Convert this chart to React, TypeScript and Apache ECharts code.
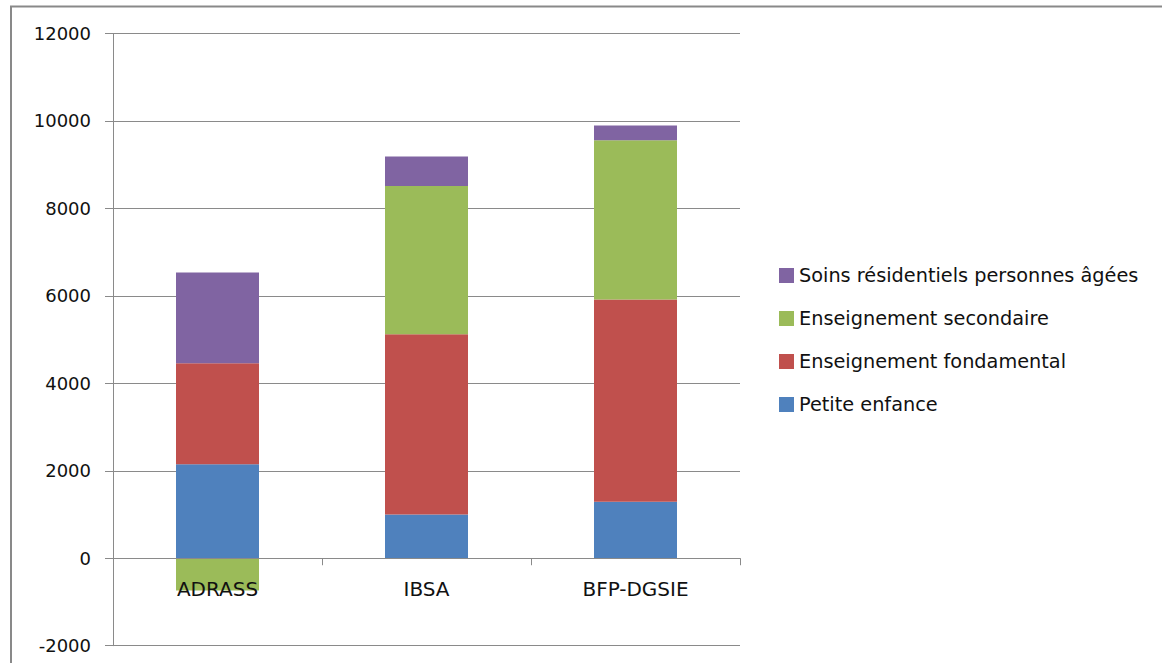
import React, { useEffect, useRef } from "react";
import * as echarts from "echarts";

const categories = ["ADRASS", "IBSA", "BFP-DGSIE"];
const seriesNames = [
  "Petite enfance",
  "Enseignement fondamental",
  "Enseignement secondaire",
  "Soins résidentiels personnes âgées",
];
const petiteEnfance = [2150, 1000, 1290];
const fondamental = [2310, 4120, 4625];
const secondaire = [-740, 3390, 3645];
const soinsAges = [2075, 680, 336];
const colors = ["#4F81BD", "#C0504D", "#9BBB59", "#8064A2"];
const yTicks = { min: -2000, max: 12000, interval: 2000 };

const FONT = "DejaVu Sans";
const GRID_TOP = 33.5;
const GRID_BOTTOM_Y = 645.7;

export default function App() {
  const ref = useRef<HTMLDivElement>(null);
  useEffect(() => {
    if (!ref.current) return;
    const chart = echarts.init(ref.current, undefined, { renderer: "svg" });
    const values = [petiteEnfance, fondamental, secondaire, soinsAges];
    const plotH = GRID_BOTTOM_Y - GRID_TOP;
    const zeroOffset = (plotH * (0 - yTicks.min)) / (yTicks.max - yTicks.min);
    chart.setOption({
      animation: false,
      backgroundColor: "#fff",
      grid: {
        left: 113,
        top: GRID_TOP,
        right: 422,
        bottom: 663 - GRID_BOTTOM_Y,
        containLabel: false,
        outerBoundsMode: "none",
      },
      legend: {
        orient: "vertical",
        left: 779,
        top: 266,
        padding: 0,
        itemWidth: 15,
        itemHeight: 15,
        itemGap: 24,
        icon: "rect",
        data: [...seriesNames].reverse(),
        textStyle: { fontFamily: FONT, fontSize: 19.3, color: "#111", lineHeight: 19 },
      },
      xAxis: {
        type: "category",
        data: categories,
        position: "bottom",
        offset: -zeroOffset,
        z: 10,
        axisLine: { onZero: false, lineStyle: { color: "#8a8a8a", width: 1 } },
        axisTick: { show: true, alignWithLabel: false, length: 7, lineStyle: { color: "#8a8a8a" } },
        axisLabel: { margin: 21, fontFamily: FONT, fontSize: 20, color: "#111" },
        splitLine: { show: false },
      },
      yAxis: {
        type: "value",
        min: yTicks.min,
        max: yTicks.max,
        interval: yTicks.interval,
        axisLine: { show: true, lineStyle: { color: "#8a8a8a" } },
        axisTick: { show: true, length: 8, lineStyle: { color: "#8a8a8a" } },
        axisLabel: {
          margin: 22,
          fontFamily: FONT,
          fontSize: 18,
          color: "#111",
          formatter: (v: number) => String(v),
        },
        splitLine: { show: true, lineStyle: { color: "#8a8a8a", width: 1 } },
      },
      series: seriesNames.map((name, i) => ({
        name,
        type: "bar",
        stack: "total",
        barWidth: 83,
        data: values[i],
        itemStyle: { color: colors[i] },
      })),
      graphic: [
        { type: "line", shape: { x1: 10, y1: 6.5, x2: 1162, y2: 6.5 }, style: { stroke: "#898989", lineWidth: 2 } },
        { type: "line", shape: { x1: 11, y1: 6, x2: 11, y2: 663 }, style: { stroke: "#898989", lineWidth: 2 } },
      ],
    });
    return () => chart.dispose();
  }, []);
  return (
    <div
      ref={ref}
      style={{ position: "absolute", left: 0, top: 0, width: 1162, height: 663 }}
    />
  );
}
